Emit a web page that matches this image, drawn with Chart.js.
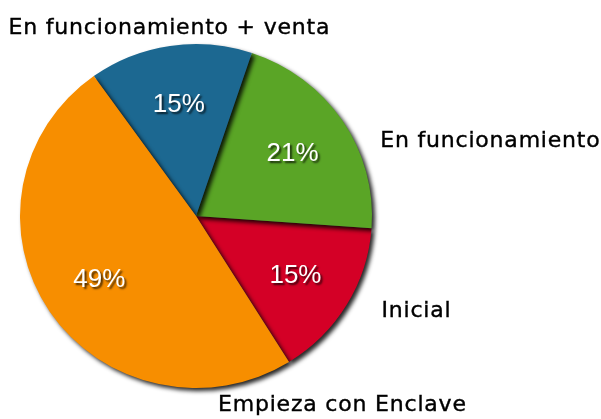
<!DOCTYPE html>
<html>
<head>
<meta charset="utf-8">
<script src="https://cdn.jsdelivr.net/npm/chart.js@4"></script>
<style>
  html, body { margin: 0; padding: 0; background: #fff; }
  #wrap { width: 601px; height: 419px; position: relative; }
</style>
</head>
<body>
<div id="wrap"><canvas id="pie"></canvas></div>
<script>
(function() {
    // slices, clockwise from the top-right
    const categories = ['En funcionamiento', 'Inicial', 'Empieza con Enclave', 'En funcionamiento + venta'];
    const shares = [21, 15, 49, 15];
    const colors = ['#5aa526', '#d40026', '#f78e00', '#1c6891'];

    // where each outside label sits, in pie radii from the centre (left x, baseline y)
    const labelSpots = [[1.047, -0.392], [1.054, 0.574], [0.125, 1.11], [-1.065, -1.036]];

    // slices are painted in this order so the shadows fall like in the original
    const paintOrder = [1, 0, 3, 2];
    // the original pie is a touch flatter than it is wide
    const squash = 0.977;

    const shadowedPie = {
        id: 'shadowedPie',
        beforeDatasetDraw(chart, args) {
            const ctx = chart.ctx;
            const meta = args.meta;
            const cx = meta.data[0].x, cy = meta.data[0].y;
            ctx.save();
            ctx.translate(cx, cy);
            ctx.scale(1, squash);
            ctx.translate(-cx, -cy);
            ctx.shadowColor = 'rgba(0,0,0,0.85)';
            ctx.shadowOffsetX = 3;
            ctx.shadowOffsetY = 3;
            ctx.shadowBlur = 4;
            paintOrder.forEach(i => meta.data[i].draw(ctx, chart.chartArea));
            ctx.restore();
            return false;
        },
        afterDatasetsDraw(chart) {
            const ctx = chart.ctx;
            const meta = chart.getDatasetMeta(0);
            const first = meta.data[0];
            const cx = first.x, cy = first.y, r = first.outerRadius;

            // percentages inside the slices
            ctx.save();
            ctx.font = '26px "Liberation Sans", Arial, sans-serif';
            ctx.textAlign = 'center';
            ctx.textBaseline = 'middle';
            ctx.fillStyle = '#ffffff';
            ctx.shadowColor = 'rgba(0,0,0,0.7)';
            ctx.shadowOffsetX = 2;
            ctx.shadowOffsetY = 2;
            ctx.shadowBlur = 2;
            meta.data.forEach((arc, i) => {
                const mid = (arc.startAngle + arc.endAngle) / 2;
                const d = r * 0.66;
                ctx.fillText(shares[i] + '%', cx + Math.cos(mid) * d, cy + Math.sin(mid) * d * squash + 1);
            });
            ctx.restore();

            // category names outside
            ctx.save();
            ctx.font = '22px "DejaVu Sans", Verdana, sans-serif';
            ctx.letterSpacing = '0.8px';
            ctx.textAlign = 'left';
            ctx.textBaseline = 'alphabetic';
            ctx.fillStyle = '#000000';
            ctx.strokeStyle = '#000000';
            ctx.lineWidth = 0.4;
            categories.forEach((name, i) => {
                const x = cx + labelSpots[i][0] * r, y = cy + labelSpots[i][1] * r;
                ctx.fillText(name, x, y);
                ctx.strokeText(name, x, y);
            });
            ctx.restore();
        }
    };

    new Chart(document.getElementById('pie'), {
        type: 'pie',
        data: {
            labels: categories,
            datasets: [{
                data: shares,
                backgroundColor: colors,
                borderWidth: 0
            }]
        },
        options: {
            responsive: true,
            maintainAspectRatio: false,
            animation: false,
            rotation: 18.5,
            layout: { padding: { left: 20, top: 40, right: 229, bottom: 27 } },
            plugins: {
                legend: { display: false },
                tooltip: { enabled: false }
            }
        },
        plugins: [shadowedPie]
    });
})();
</script>
</body>
</html>
